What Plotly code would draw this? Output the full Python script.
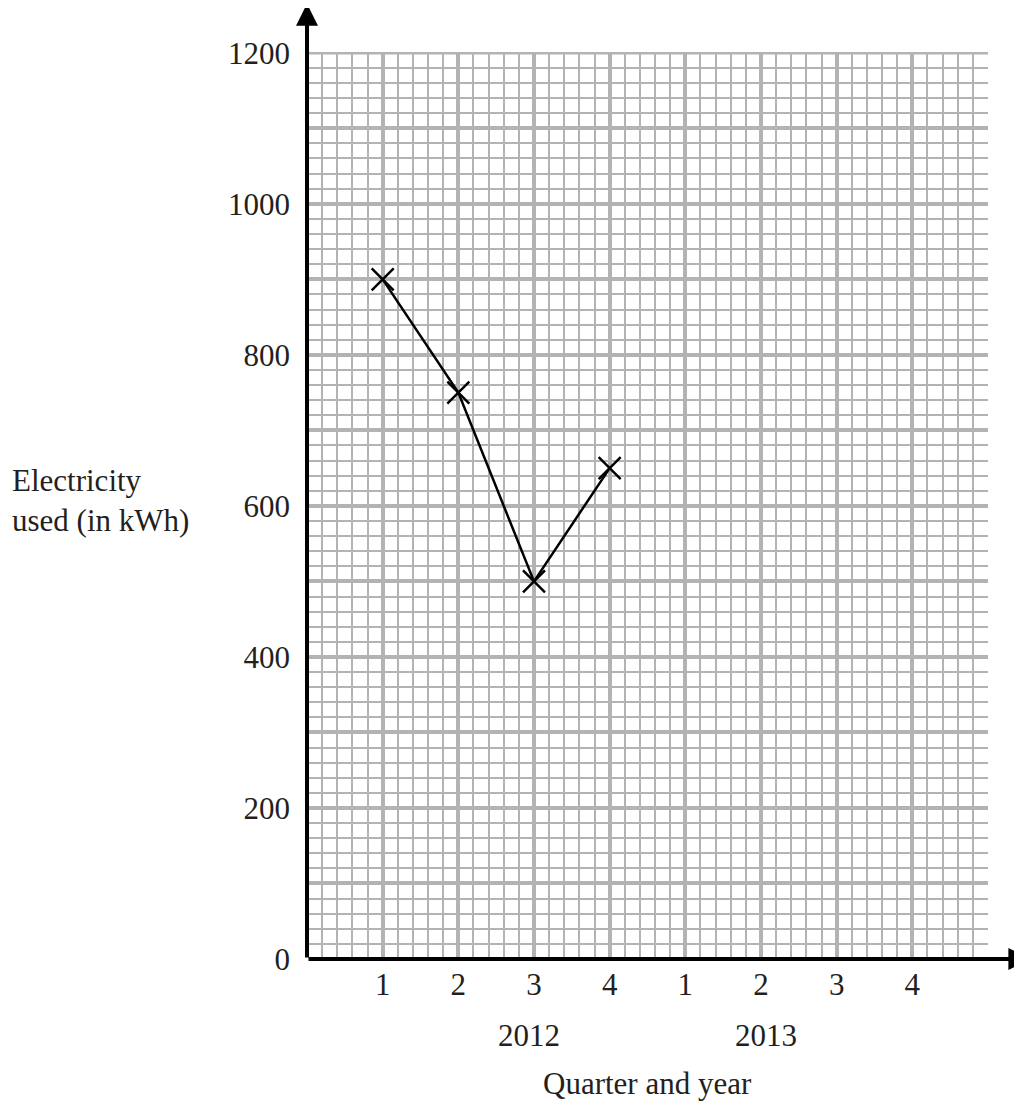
import plotly.graph_objects as go

quarters = ["1", "2", "3", "4", "1", "2", "3", "4"]
years = ["2012", "2013"]
quarter_pos = [1, 2, 3, 4, 5, 6, 7, 8]
electricity = [900, 750, 500, 650]
y_ticks = list(range(0, 1201, 100))
y_labels = [str(v) if v % 200 == 0 else "" for v in y_ticks]

FONT = dict(family="Liberation Serif, Times New Roman, serif", size=31, color="#231f20")
GRID = "#b3b3b3"

W, H = 1022, 1104
ML, MR, MT, MB = 299, 42, 44, 153
PW, PH = W - ML - MR, H - MT - MB

fig = go.Figure()
fig.add_trace(go.Scatter(
    x=quarter_pos[:len(electricity)], y=electricity,
    mode="lines+markers",
    line=dict(color="black", width=2.5),
    marker=dict(symbol="x-thin", size=22, line=dict(color="black", width=2.5)),
    showlegend=False, hoverinfo="skip", cliponaxis=False,
))

fig.update_xaxes(
    range=[0, 9], tickvals=quarter_pos, ticktext=quarters,
    showgrid=True, gridcolor=GRID, gridwidth=3.5,
    minor=dict(dtick=0.2, tick0=0, showgrid=True, gridcolor=GRID, gridwidth=2),
    zeroline=False, showline=False, ticks="", ticklabelstandoff=4,
    tickfont=FONT, fixedrange=True,
)
fig.update_yaxes(
    range=[0, 1201], tickvals=y_ticks, ticktext=y_labels,
    showgrid=True, gridcolor=GRID, gridwidth=3.5,
    minor=dict(dtick=20, tick0=0, showgrid=True, gridcolor=GRID, gridwidth=2),
    zeroline=False, showline=False, ticks="", ticklabelstandoff=16,
    tickfont=FONT, fixedrange=True,
)

# top border of the graph paper
fig.add_shape(type="line", xref="x", yref="y", x0=0, x1=9, y0=y_ticks[-1], y1=y_ticks[-1],
              line=dict(color=GRID, width=3.5), layer="below")

# axes with arrows
fig.add_annotation(x=0, y=1265, ax=0, ay=0, xref="x", yref="y", axref="x", ayref="y",
                   showarrow=True, arrowhead=2, arrowsize=1.1, arrowwidth=4, arrowcolor="black", text="")
fig.add_annotation(x=9.56, y=0, ax=0, ay=0, xref="x", yref="y", axref="x", ayref="y",
                   showarrow=True, arrowhead=2, arrowsize=1.1, arrowwidth=4, arrowcolor="black", text="")

# year labels
for i, yr in enumerate(years):
    fig.add_annotation(x=(2.5 + 4 * i) / 9, y=-(1035 - 959) / PH, xref="paper", yref="paper",
                       text=yr, showarrow=False, font=FONT, yanchor="middle")
fig.add_annotation(x=4.5 / 9, y=-(1083 - 959) / PH, xref="paper", yref="paper",
                   text="Quarter and year", showarrow=False, font=FONT, yanchor="middle")
fig.add_annotation(x=-(307 - 10) / PW, y=(959 - 500) / PH, xref="paper", yref="paper",
                   text="Electricity<br>used (in kWh)", showarrow=False, font=FONT,
                   xanchor="left", align="left", yanchor="middle")

fig.update_layout(
    width=W, height=H,
    margin=dict(l=ML, r=MR, t=MT, b=MB, autoexpand=False),
    paper_bgcolor="white", plot_bgcolor="white",
    font=FONT,
)

fig.write_html("out.html")
